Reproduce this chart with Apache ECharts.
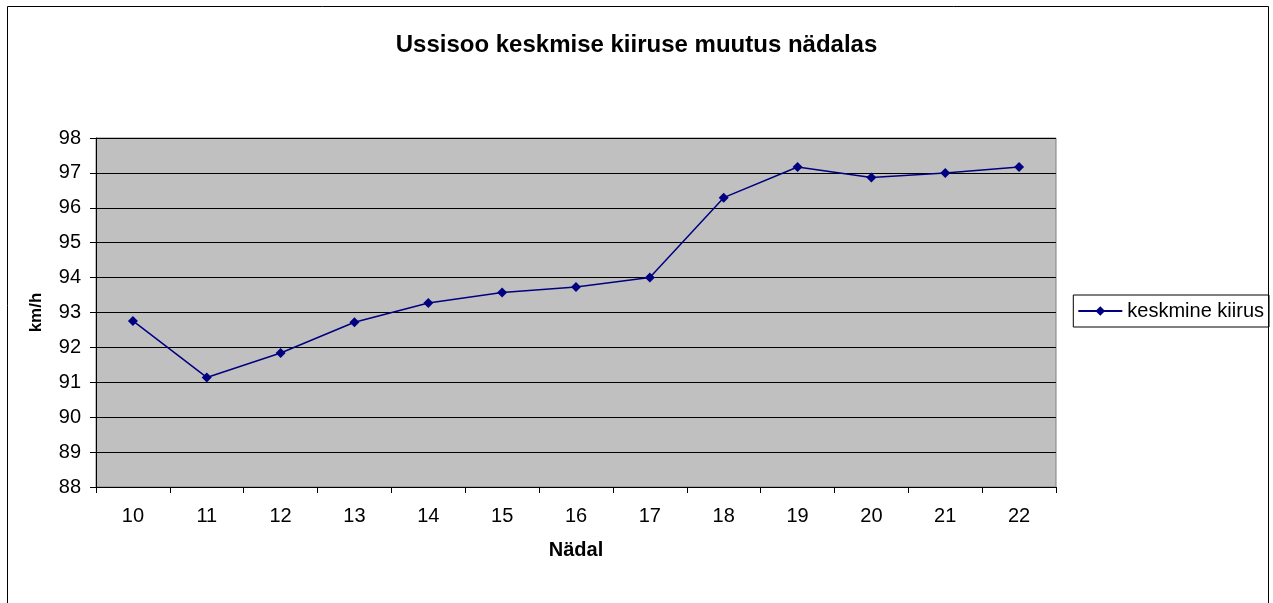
<!DOCTYPE html>
<html>
<head>
<meta charset="utf-8">
<script src="https://cdn.jsdelivr.net/npm/echarts@6/dist/echarts.min.js"></script>
<style>
  html, body { margin: 0; padding: 0; background: #fff; }
  #chart { width: 1273px; height: 603px; }
</style>
</head>
<body>
<div id="chart"></div>
<script>
const weeks = ['10', '11', '12', '13', '14', '15', '16', '17', '18', '19', '20', '21', '22'];
const avgSpeed = [92.76, 91.14, 91.84, 92.72, 93.27, 93.57, 93.73, 94.0, 96.29, 97.17, 96.87, 97.0, 97.17];

const chart = echarts.init(document.getElementById('chart'));
const font = "'Liberation Sans', Arial, sans-serif";

chart.setOption({
  animation: false,
  textStyle: { fontFamily: font },
  title: {
    text: 'Ussisoo keskmise kiiruse muutus nädalas',
    left: 'center',
    top: 28,
    textStyle: { fontSize: 24, fontWeight: 'bold', color: '#000', fontFamily: font }
  },
  graphic: [{
    type: 'rect',
    shape: { x: 7.5, y: 6.5, width: 1261, height: 620 },
    style: { fill: 'none', stroke: '#000', lineWidth: 1 },
    silent: true
  }],
  legend: {
    right: 4,
    top: 295,
    orient: 'vertical',
    borderColor: '#000',
    borderWidth: 1,
    padding: [6, 5, 6, 4],
    itemWidth: 44,
    itemHeight: 12,
    textStyle: { fontSize: 20, color: '#000', fontFamily: font },
    data: ['keskmine kiirus']
  },
  grid: {
    left: 96,
    right: 217,
    top: 138,
    bottom: 116,
    show: true,
    backgroundColor: '#c0c0c0',
    borderColor: '#808080',
    borderWidth: 1
  },
  xAxis: {
    type: 'category',
    data: weeks,
    boundaryGap: true,
    name: 'Nädal',
    nameLocation: 'middle',
    nameGap: 53,
    nameTextStyle: { fontSize: 20, fontWeight: 'bold', color: '#000' },
    axisLine: { lineStyle: { color: '#000', width: 1 } },
    axisTick: { show: true, length: 6, lineStyle: { color: '#000' } },
    axisLabel: { fontSize: 20, color: '#000', margin: 19 },
    splitLine: { show: false }
  },
  yAxis: {
    type: 'value',
    min: 88,
    max: 98,
    interval: 1,
    name: 'km/h',
    nameLocation: 'middle',
    nameGap: 51,
    nameTextStyle: { fontSize: 17, fontWeight: 'bold', color: '#000' },
    axisLine: { show: true, lineStyle: { color: '#000', width: 1 } },
    axisTick: { show: true, length: 6, lineStyle: { color: '#000' } },
    axisLabel: { fontSize: 20, color: '#000', margin: 15 },
    splitLine: { show: true, lineStyle: { color: '#000', width: 1 } }
  },
  series: [{
    name: 'keskmine kiirus',
    type: 'line',
    data: avgSpeed,
    symbol: 'diamond',
    symbolSize: 10,
    lineStyle: { color: '#000080', width: 1.5 },
    itemStyle: { color: '#000080' }
  }]
});
</script>
</body>
</html>
